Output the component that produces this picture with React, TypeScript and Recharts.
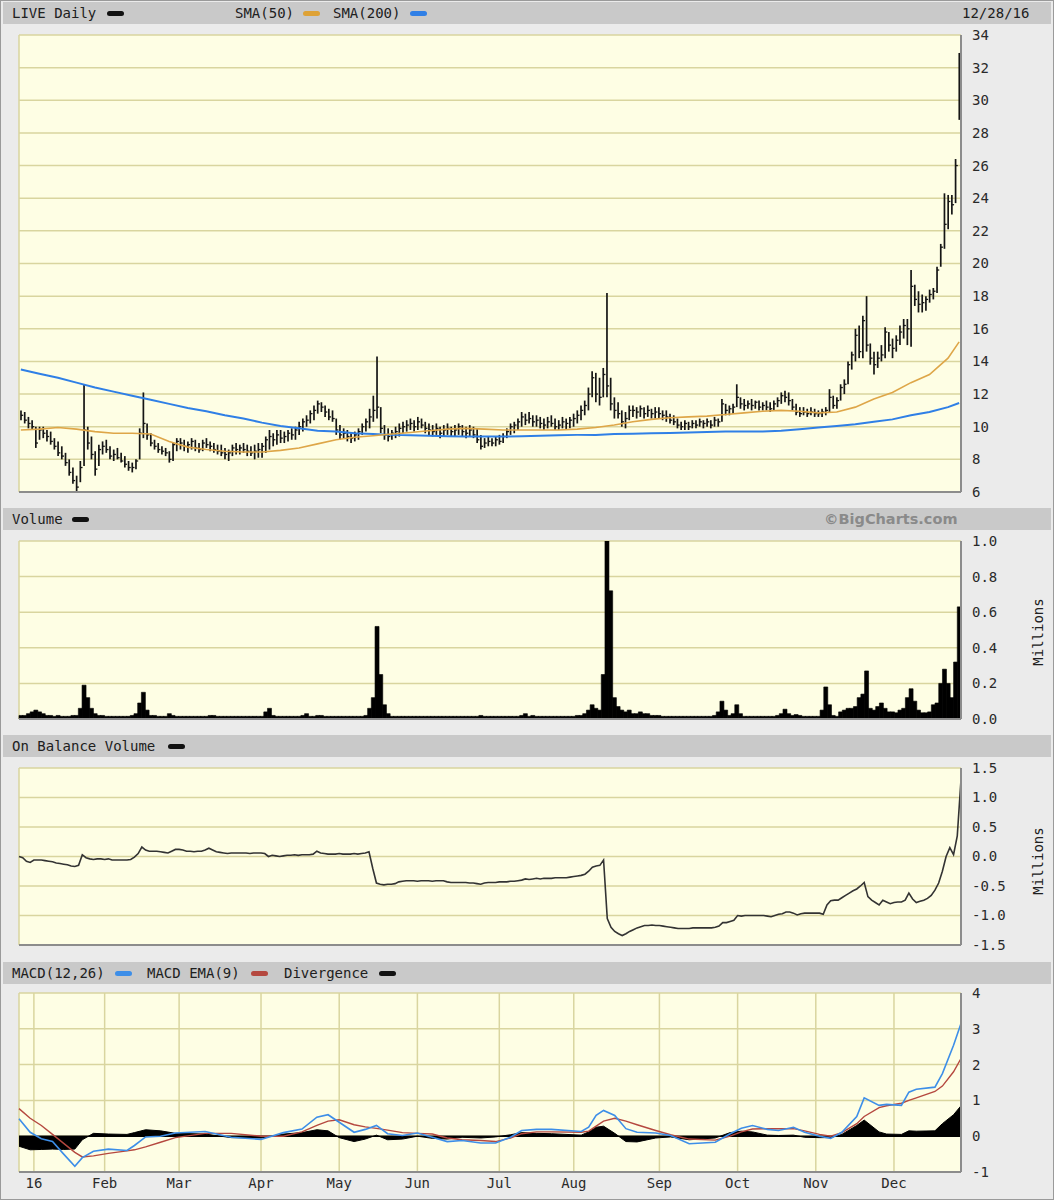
import React from "react";
import {
  Area,
  Bar,
  CartesianGrid,
  ComposedChart,
  Line,
  ReferenceLine,
  XAxis,
  YAxis,
} from "recharts";

// trading days 12/28/15 .. 12/28/16, index 0..253
const MONTH_IDX = [4, 23, 43, 65, 86, 107, 129, 149, 172, 193, 214, 235];
const MONTH_LABELS = ["16", "Feb", "Mar", "Apr", "May", "Jun", "Jul", "Aug", "Sep", "Oct", "Nov", "Dec"];

const HIGH = [
  11.0, 10.9, 10.6, 10.4, 10.0, 10.0, 10.0, 9.8, 9.7, 9.3,
  9.1, 8.8, 8.4, 8.0, 7.5, 7.0, 7.9, 12.6, 10.0, 9.4,
  8.5, 8.9, 9.1, 9.2, 8.8, 8.6, 8.7, 8.4, 8.2, 7.9,
  7.8, 8.0, 9.9, 12.1, 10.2, 9.6, 9.2, 9.0, 8.8, 8.7,
  8.5, 9.0, 9.3, 9.3, 9.2, 9.1, 9.3, 9.2, 9.0, 9.2,
  9.3, 9.1, 9.0, 8.9, 8.9, 8.7, 8.6, 8.9, 9.0, 8.9,
  9.0, 8.9, 8.8, 8.9, 9.0, 9.0, 9.4, 9.8, 9.6, 9.8,
  9.8, 9.7, 9.8, 9.9, 10.0, 10.3, 10.5, 10.7, 11.0, 11.3,
  11.6, 11.5, 11.3, 11.1, 11.0, 10.5, 10.1, 9.9, 9.8, 9.6,
  9.7, 9.9, 10.2, 10.5, 11.1, 11.9, 14.3, 11.2, 10.1, 9.9,
  9.8, 10.0, 10.2, 10.3, 10.4, 10.5, 10.4, 10.6, 10.5, 10.3,
  10.2, 10.1, 10.2, 10.0, 10.1, 10.2, 10.0, 10.1, 10.2, 10.1,
  10.0, 10.1, 10.0, 9.9, 9.5, 9.3, 9.4, 9.3, 9.4, 9.5,
  9.6, 9.9, 10.2, 10.3, 10.5, 10.9, 10.8, 10.9, 10.7, 10.7,
  10.6, 10.5, 10.6, 10.7, 10.5, 10.4, 10.6, 10.5, 10.6, 10.8,
  11.0, 11.3, 11.6, 12.4, 13.4, 13.3, 13.0, 13.6, 18.2, 13.0,
  11.8, 11.5, 11.0, 10.9, 11.3, 11.3, 11.2, 11.3, 11.2, 11.3,
  11.1, 11.2, 11.2, 11.0, 11.0, 10.8, 10.7, 10.5, 10.3, 10.4,
  10.3, 10.4, 10.4, 10.5, 10.4, 10.5, 10.4, 10.6, 10.5, 11.7,
  11.4, 11.3, 11.4, 12.6, 11.8, 11.7, 11.6, 11.7, 11.6, 11.6,
  11.5, 11.6, 11.5, 11.6, 11.8, 12.1, 12.2, 12.1, 11.7, 11.4,
  11.2, 11.2, 11.1, 11.2, 11.1, 11.0, 11.1, 11.2, 12.3, 11.9,
  11.8, 12.6, 12.9, 14.0, 14.6, 16.0, 16.2, 16.8, 18.0, 15.1,
  14.6, 14.6, 15.0, 16.1, 15.8, 15.4, 15.6, 16.2, 16.6, 16.6,
  19.6, 18.7, 18.3, 18.1, 18.0, 18.4, 18.5, 19.8, 21.2, 24.3,
  24.2, 24.2, 26.4, 32.9,
];

const LOW = [
  10.4, 10.2, 9.9, 9.8, 8.7, 9.2, 9.3, 9.1, 8.9, 8.6,
  8.2, 8.0, 7.6, 7.0, 6.5, 5.9, 6.6, 7.6, 8.6, 8.0,
  7.0, 7.6, 8.3, 8.4, 8.0, 7.9, 8.0, 7.8, 7.5, 7.3,
  7.2, 7.4, 8.0, 9.3, 9.2, 8.8, 8.6, 8.4, 8.3, 8.2,
  7.8, 7.9, 8.5, 8.6, 8.5, 8.4, 8.6, 8.5, 8.4, 8.5,
  8.7, 8.5, 8.4, 8.3, 8.2, 8.0, 7.9, 8.2, 8.3, 8.3,
  8.4, 8.2, 8.2, 8.0, 8.1, 8.1, 8.4, 8.6, 8.8, 8.9,
  9.0, 9.0, 9.1, 9.2, 9.2, 9.5, 9.7, 10.0, 10.2, 10.4,
  10.8, 10.9, 10.6, 10.4, 10.3, 9.5, 9.2, 9.3, 9.1, 9.0,
  9.1, 9.2, 9.5, 9.7, 9.9, 10.3, 10.5, 9.6, 9.2, 9.1,
  9.2, 9.3, 9.4, 9.6, 9.7, 9.8, 9.7, 9.8, 9.9, 9.6,
  9.5, 9.4, 9.5, 9.3, 9.4, 9.5, 9.4, 9.4, 9.5, 9.4,
  9.3, 9.4, 9.3, 9.0, 8.6, 8.7, 8.8, 8.8, 8.8, 8.9,
  9.0, 9.3, 9.5, 9.6, 9.8, 10.0, 10.1, 10.2, 10.0, 10.0,
  9.9, 9.8, 9.9, 10.0, 9.8, 9.8, 9.9, 9.8, 9.9, 10.0,
  10.2, 10.4, 10.7, 11.0, 11.8, 11.5, 11.3, 11.8, 11.8, 11.0,
  10.5, 10.5, 10.0, 9.9, 10.4, 10.6, 10.5, 10.6, 10.5, 10.6,
  10.5, 10.5, 10.5, 10.4, 10.3, 10.2, 10.1, 9.9, 9.8, 9.8,
  9.8, 9.9, 9.9, 10.0, 9.9, 10.0, 9.9, 10.0, 10.0, 10.3,
  10.7, 10.7, 10.8, 11.2, 11.1, 11.0, 11.1, 11.0, 11.1, 11.0,
  11.0, 11.0, 10.9, 11.0, 11.2, 11.4, 11.5, 11.3, 11.0, 10.7,
  10.6, 10.7, 10.6, 10.7, 10.6, 10.6, 10.6, 10.7, 10.9, 11.1,
  11.1, 11.6, 12.0, 12.6, 13.5, 14.0, 14.2, 14.2, 14.6, 13.8,
  13.2, 13.6, 14.0, 14.2, 14.6, 14.2, 14.6, 15.0, 15.4, 15.0,
  14.9, 17.4, 17.0, 17.0, 17.1, 17.6, 17.8, 18.2, 19.8, 20.9,
  22.1, 23.0, 23.7, 28.8,
];

const CLOSE = [
  10.7, 10.4, 10.2, 10.0, 9.0, 9.8, 9.6, 9.4, 9.1, 8.8,
  8.4, 8.2, 7.8, 7.2, 6.7, 6.3, 7.5, 9.8, 9.0, 8.3,
  7.4, 8.6, 8.8, 8.6, 8.2, 8.3, 8.1, 7.9, 7.7, 7.5,
  7.5, 7.9, 9.6, 10.2, 9.5, 9.0, 8.8, 8.6, 8.5, 8.4,
  8.0, 8.9, 9.1, 9.0, 8.8, 8.9, 9.1, 8.7, 8.6, 9.0,
  8.9, 8.8, 8.6, 8.5, 8.4, 8.3, 8.4, 8.7, 8.6, 8.7,
  8.6, 8.5, 8.4, 8.5, 8.6, 8.8, 9.2, 9.4, 9.2, 9.5,
  9.3, 9.4, 9.6, 9.5, 9.8, 10.0, 10.3, 10.4, 10.8, 11.0,
  11.4, 11.2, 10.9, 10.6, 10.5, 9.8, 9.5, 9.6, 9.4, 9.3,
  9.5, 9.7, 10.0, 10.3, 10.6, 11.0, 11.2, 9.9, 9.5, 9.4,
  9.6, 9.7, 9.9, 10.0, 10.1, 10.2, 10.0, 10.3, 10.1, 9.9,
  9.8, 9.7, 9.9, 9.6, 9.8, 9.9, 9.7, 9.8, 10.0, 9.7,
  9.6, 9.8, 9.5, 9.2, 8.8, 9.0, 9.1, 9.0, 9.2, 9.1,
  9.4, 9.7, 10.0, 10.1, 10.3, 10.6, 10.4, 10.5, 10.3, 10.4,
  10.2, 10.1, 10.3, 10.2, 10.0, 10.1, 10.3, 10.2, 10.4, 10.5,
  10.7, 11.0, 11.3, 12.0, 13.0, 12.0, 11.8, 13.2, 12.5, 11.4,
  11.0, 10.8, 10.3, 10.5, 11.0, 11.0, 10.9, 11.1, 10.8, 11.0,
  10.8, 10.9, 10.8, 10.7, 10.6, 10.4, 10.3, 10.1, 10.0, 10.2,
  10.0, 10.2, 10.1, 10.3, 10.2, 10.3, 10.1, 10.4, 10.3, 11.4,
  11.0, 11.1, 11.2, 11.8, 11.4, 11.3, 11.4, 11.3, 11.5, 11.2,
  11.3, 11.2, 11.1, 11.4, 11.6, 11.9, 11.8, 11.6, 11.2, 10.9,
  10.8, 10.9, 10.8, 10.9, 10.8, 10.8, 10.9, 11.0, 11.8, 11.3,
  11.6, 12.4, 12.6, 13.8, 14.4, 15.6, 14.6, 16.5, 15.0, 14.2,
  13.8, 14.2, 14.4, 15.8, 15.0, 14.8, 15.3, 15.8, 16.2, 16.0,
  18.6, 17.8, 17.5, 17.6, 17.8, 18.1, 18.3, 19.6, 21.0, 22.4,
  23.8, 23.6, 26.0, 30.0,
];

// millions of shares
const VOLUME = [
  0.02, 0.02, 0.03, 0.04, 0.05, 0.04, 0.03, 0.02, 0.02, 0.015,
  0.02, 0.015, 0.015, 0.015, 0.02, 0.02, 0.06, 0.19, 0.12, 0.06,
  0.03, 0.02, 0.02, 0.015, 0.015, 0.015, 0.015, 0.015, 0.015, 0.015,
  0.02, 0.03, 0.09, 0.15, 0.05, 0.02, 0.02, 0.015, 0.015, 0.015,
  0.03, 0.02, 0.015, 0.015, 0.015, 0.015, 0.015, 0.015, 0.015, 0.015,
  0.015, 0.02, 0.02, 0.015, 0.015, 0.015, 0.015, 0.015, 0.015, 0.015,
  0.015, 0.015, 0.015, 0.015, 0.015, 0.015, 0.04, 0.06, 0.02, 0.015,
  0.015, 0.015, 0.015, 0.015, 0.015, 0.015, 0.02, 0.03, 0.015, 0.015,
  0.02, 0.02, 0.015, 0.015, 0.015, 0.015, 0.015, 0.015, 0.015, 0.015,
  0.015, 0.015, 0.015, 0.02, 0.06, 0.12, 0.52, 0.25, 0.08, 0.03,
  0.015, 0.015, 0.015, 0.015, 0.015, 0.015, 0.015, 0.015, 0.015, 0.015,
  0.015, 0.015, 0.015, 0.015, 0.015, 0.015, 0.015, 0.015, 0.015, 0.015,
  0.015, 0.015, 0.015, 0.015, 0.02, 0.015, 0.015, 0.015, 0.015, 0.015,
  0.015, 0.015, 0.015, 0.015, 0.015, 0.02, 0.03, 0.015, 0.02, 0.015,
  0.015, 0.015, 0.015, 0.015, 0.015, 0.015, 0.015, 0.015, 0.015, 0.015,
  0.02, 0.02, 0.03, 0.05, 0.08, 0.06, 0.05, 0.25, 1.0, 0.72,
  0.12, 0.07, 0.05, 0.04, 0.05, 0.03, 0.03, 0.04, 0.03, 0.03,
  0.02, 0.02, 0.02, 0.015, 0.015, 0.015, 0.015, 0.015, 0.015, 0.015,
  0.015, 0.015, 0.015, 0.015, 0.015, 0.015, 0.015, 0.02, 0.04, 0.10,
  0.05, 0.02, 0.03, 0.08, 0.03, 0.015, 0.015, 0.015, 0.015, 0.015,
  0.015, 0.015, 0.015, 0.015, 0.02, 0.03, 0.055, 0.03, 0.02, 0.025,
  0.02, 0.015, 0.015, 0.015, 0.015, 0.015, 0.05, 0.18, 0.08, 0.02,
  0.015, 0.04, 0.05, 0.06, 0.06, 0.07, 0.12, 0.14, 0.27, 0.06,
  0.05, 0.07, 0.09, 0.06, 0.04, 0.04, 0.035, 0.05, 0.06, 0.12,
  0.17, 0.10, 0.05, 0.035, 0.035, 0.04, 0.08, 0.09, 0.20, 0.28,
  0.20, 0.12, 0.32, 0.63,
];

// on balance volume, millions
const OBV = [
  0.0, -0.02, -0.08, -0.10, -0.06, -0.06, -0.06, -0.07, -0.08, -0.09,
  -0.11, -0.12, -0.13, -0.14, -0.16, -0.17, -0.15, 0.03, -0.02, -0.04,
  -0.05, -0.04, -0.04, -0.05, -0.04, -0.06, -0.06, -0.06, -0.06, -0.06,
  -0.05, -0.01, 0.05, 0.16, 0.11, 0.09, 0.09, 0.09, 0.08, 0.07,
  0.06, 0.09, 0.12, 0.12, 0.11, 0.09, 0.09, 0.08, 0.09, 0.09,
  0.11, 0.14, 0.11, 0.08, 0.07, 0.06, 0.05, 0.06, 0.06, 0.06,
  0.06, 0.06, 0.05, 0.06, 0.06, 0.06, 0.05, 0.0, 0.02, 0.01,
  0.0, 0.01, 0.02, 0.02, 0.03, 0.02, 0.03, 0.03, 0.03, 0.04,
  0.09, 0.06, 0.05, 0.04, 0.04, 0.04, 0.05, 0.04, 0.04, 0.04,
  0.05, 0.04, 0.05, 0.06, 0.08, -0.2, -0.45, -0.47, -0.48, -0.47,
  -0.47, -0.46, -0.43, -0.42, -0.41, -0.41, -0.41, -0.42, -0.41, -0.41,
  -0.41, -0.42, -0.41, -0.41, -0.41, -0.43, -0.44, -0.44, -0.44, -0.44,
  -0.44, -0.45, -0.45, -0.46, -0.47, -0.45, -0.44, -0.44, -0.44, -0.43,
  -0.43, -0.43, -0.42, -0.42, -0.41, -0.40, -0.38, -0.39, -0.38, -0.37,
  -0.38, -0.37, -0.37, -0.37, -0.36, -0.36, -0.36, -0.36, -0.35, -0.34,
  -0.33, -0.32, -0.30, -0.25, -0.18, -0.16, -0.15, -0.06, -1.05, -1.2,
  -1.27, -1.31, -1.34, -1.31, -1.27, -1.24, -1.21, -1.19, -1.17, -1.17,
  -1.16, -1.17, -1.17, -1.18, -1.19, -1.2, -1.21, -1.22, -1.22, -1.22,
  -1.22, -1.21, -1.21, -1.21, -1.21, -1.21, -1.21, -1.2, -1.18, -1.12,
  -1.12, -1.1, -1.08, -1.0, -1.01, -1.0, -1.0, -1.0, -1.0, -1.0,
  -1.0, -1.01, -1.02, -1.0, -0.98, -0.97, -0.94, -0.94, -0.96, -0.99,
  -0.97, -0.96, -0.96, -0.96, -0.96, -0.96, -0.98, -0.82, -0.75, -0.74,
  -0.74, -0.70, -0.66, -0.62, -0.58, -0.55, -0.50, -0.44, -0.68, -0.74,
  -0.78, -0.82, -0.74, -0.77, -0.80, -0.78, -0.77, -0.77, -0.74, -0.62,
  -0.72, -0.78, -0.76, -0.74, -0.71, -0.66, -0.57, -0.45, -0.25, 0.0,
  0.15, 0.03, 0.35, 1.3,
];

// moving averages, read at these day indices
const SMA_IDX = [
  0, 5, 10, 15, 20, 25, 30, 35, 40, 45, 50, 55, 60, 65, 70, 75, 80, 85, 90, 95,
  100, 105, 110, 115, 120, 125, 130, 135, 140, 145, 150, 155, 160, 165, 170, 175,
  180, 185, 190, 195, 200, 205, 210, 215, 220, 225, 230, 235, 240, 245, 250, 253,
];
const SMA50 = [
  9.8, 9.85, 9.95, 9.85, 9.7, 9.6, 9.6, 9.55, 9.1, 8.75, 8.6, 8.5, 8.45, 8.45, 8.55, 8.7, 8.95, 9.2, 9.35, 9.45,
  9.55, 9.65, 9.75, 9.85, 9.9, 9.85, 9.8, 9.8, 9.8, 9.8, 9.85, 9.95, 10.1, 10.3, 10.45, 10.55,
  10.6, 10.65, 10.75, 10.85, 10.95, 11.0, 10.95, 10.85, 10.9, 11.2, 11.7, 12.1, 12.7, 13.2, 14.2, 15.2,
];
const SMA200 = [
  13.5, 13.25, 13.0, 12.7, 12.4, 12.15, 11.9, 11.65, 11.4, 11.15, 10.95, 10.7, 10.5, 10.25, 10.05, 9.9, 9.75, 9.7, 9.6, 9.55,
  9.5, 9.48, 9.45, 9.42, 9.4, 9.4, 9.4, 9.42, 9.45, 9.48, 9.5, 9.5, 9.55, 9.57, 9.6, 9.62,
  9.65, 9.68, 9.7, 9.7, 9.7, 9.75, 9.85, 9.95, 10.05, 10.15, 10.3, 10.45, 10.7, 10.9, 11.2, 11.45,
];

// MACD panel, read at these day indices
const MACD_IDX = [
  0, 3, 6, 9, 12, 15, 17, 20, 24, 29, 31, 34, 38, 42, 50, 57, 65, 71, 76, 80, 83, 86, 90,
  93, 96, 99, 103, 107, 111, 115, 119, 124, 128, 132, 135, 139, 143, 151, 153, 155, 157, 160,
  163, 166, 171, 175, 180, 187, 191, 194, 197, 201, 204, 208, 211, 215, 218, 221, 225, 227,
  231, 233, 237, 239, 241, 246, 248, 251, 253,
];
const MACD = [
  0.49, 0.11, -0.07, -0.15, -0.5, -0.84, -0.6, -0.42, -0.36, -0.40, -0.26, -0.02, 0.0, 0.09, 0.13, -0.03, -0.09, 0.1, 0.2, 0.53, 0.60, 0.39, 0.11,
  0.19, 0.30, 0.07, 0.02, 0.09, -0.03, -0.15, -0.12, -0.19, -0.19, -0.03, 0.16, 0.19, 0.19, 0.13, 0.25, 0.58, 0.72, 0.58,
  0.21, 0.11, 0.09, 0.02, -0.21, -0.17, 0.07, 0.22, 0.30, 0.19, 0.16, 0.25, 0.11, 0.0, -0.06, 0.11, 0.55, 1.07,
  0.86, 0.89, 0.86, 1.23, 1.31, 1.37, 1.75, 2.54, 3.15,
];
const SIGNAL = [
  0.77, 0.5, 0.3, 0.05, -0.2, -0.45, -0.58, -0.55, -0.48, -0.41, -0.38, -0.3, -0.17, -0.04, 0.08, 0.08, 0.0, 0.0, 0.12, 0.3, 0.42, 0.46, 0.32,
  0.26, 0.22, 0.17, 0.1, 0.08, 0.06, -0.05, -0.1, -0.12, -0.15, -0.05, 0.07, 0.12, 0.12, 0.11, 0.14, 0.28, 0.42, 0.50,
  0.42, 0.32, 0.16, 0.04, -0.08, -0.11, 0.0, 0.12, 0.2, 0.21, 0.21, 0.21, 0.15, 0.05, 0.0, 0.1, 0.35, 0.55,
  0.8, 0.85, 0.92, 1.0, 1.07, 1.25, 1.4, 1.8, 2.17,
];
const DIVERGENCE = [
  -0.28, -0.38, -0.37, -0.36, -0.37, -0.36, -0.1, 0.08, 0.06, 0.05, 0.1, 0.18, 0.15, 0.08, 0.06, -0.04, -0.05, 0.06, 0.1, 0.18, 0.15, -0.04, -0.15,
  -0.08, 0.03, -0.1, -0.08, 0.0, -0.06, -0.08, -0.03, -0.05, -0.02, 0.04, 0.1, 0.08, 0.07, 0.03, 0.12, 0.25, 0.28, 0.08,
  -0.15, -0.16, -0.05, -0.02, -0.1, -0.05, 0.1, 0.14, 0.12, 0.03, 0.02, 0.03, -0.03, -0.04, -0.04, 0.05, 0.3, 0.45,
  0.12, 0.06, 0.05, 0.15, 0.14, 0.15, 0.35, 0.6, 0.85,
];

const PRICE_TICKS = [6, 8, 10, 12, 14, 16, 18, 20, 22, 24, 26, 28, 30, 32, 34];
const VOLUME_TICKS = [0, 0.2, 0.4, 0.6, 0.8, 1.0];
const OBV_TICKS = [-1.5, -1.0, -0.5, 0, 0.5, 1.0, 1.5];
const MACD_TICKS = [-1, 0, 1, 2, 3, 4];

type Row = {
  i: number; h: number; l: number; c: number; v: number; obv: number;
  sma50: number | null; sma200: number | null;
  macd: number | null; signal: number | null; div: number | null;
};

const ROWS: Row[] = HIGH.map((h, i) => ({
  i, h, l: LOW[i], c: CLOSE[i], v: VOLUME[i], obv: OBV[i],
  sma50: null, sma200: null, macd: null, signal: null, div: null,
}));
SMA_IDX.forEach((idx, k) => {
  ROWS[idx].sma50 = SMA50[k];
  ROWS[idx].sma200 = SMA200[k];
});
MACD_IDX.forEach((idx, k) => {
  ROWS[idx].macd = MACD[k];
  ROWS[idx].signal = SIGNAL[k];
  ROWS[idx].div = DIVERGENCE[k];
});

const MONO = '"DejaVu Sans Mono", "Liberation Mono", monospace';
const BG = "#ebebeb";
const PLOT_BG = "#fefee4";
const GRID = "#d9d59f";
const BORDER = "#8c8c8c";
const INK = "#202020";

const W = 1054;
const MARGIN = { top: 10, right: 0, bottom: 10, left: 19 };
const YW = 93;

const monthLabel = (v: number) => MONTH_LABELS[MONTH_IDX.indexOf(v)] ?? "";

// high-low bar with close tick on the right
function HlcBar(props: any) {
  const { x, y, width, height, payload } = props;
  if (x == null || y == null || !payload) return null;
  const top = Math.min(y, y + height);
  const bot = Math.max(y, y + height);
  const cx = x + width / 2;
  const span = payload.h - payload.l;
  const yc = span > 0 ? top + ((payload.h - payload.c) / span) * (bot - top) : top;
  return (
    <g>
      <line x1={cx} x2={cx} y1={top} y2={bot} stroke="#151515" strokeWidth={1.7} />
      <line x1={cx} x2={cx + 2.2} y1={yc} y2={yc} stroke="#151515" strokeWidth={1.3} />
    </g>
  );
}

const tickStyle = { fill: "#2a2a2a", fontSize: 14, fontFamily: MONO };

function Txt({ x, cy, children, style }: { x: number; cy: number; children: React.ReactNode; style?: React.CSSProperties }) {
  return (
    <div
      style={{
        position: "absolute", left: x, top: cy - 8, height: 16, lineHeight: "16px",
        fontFamily: MONO, fontSize: 14, color: INK, whiteSpace: "nowrap", ...style,
      }}
    >
      {children}
    </div>
  );
}

function Swatch({ x, cy, color }: { x: number; cy: number; color: string }) {
  return (
    <div
      style={{
        position: "absolute", left: x, top: cy - 2.5, width: 17, height: 5,
        borderRadius: 2.5, background: color,
      }}
    />
  );
}

function HeaderBar({ top }: { top: number }) {
  return <div style={{ position: "absolute", left: 3, top, width: W - 6, height: 22, background: "#c9c9c9" }} />;
}

function Millions({ cy }: { cy: number }) {
  return (
    <div
      style={{
        position: "absolute", left: 1038 - 40, top: cy - 8, width: 80, height: 16,
        lineHeight: "16px", textAlign: "center", fontFamily: MONO, fontSize: 14, color: INK,
        transform: "rotate(-90deg)",
      }}
    >
      Millions
    </div>
  );
}

function Panel({
  top, plotH, domain, ticks, fmt, showX, children,
}: {
  top: number; plotH: number; domain: [number, number]; ticks: number[];
  fmt: (v: number) => string; showX?: boolean; children: React.ReactNode;
}) {
  const xh = showX ? 20 : 0;
  const margin = { ...MARGIN, bottom: showX ? 0 : MARGIN.bottom };
  const h = MARGIN.top + plotH + (showX ? xh : MARGIN.bottom);
  return (
    <div style={{ position: "absolute", left: 0, top: top - MARGIN.top }}>
      <ComposedChart width={W} height={h} data={ROWS} margin={margin} barCategoryGap={0} barGap={0}>
        <CartesianGrid stroke={GRID} strokeWidth={1.5} fill={PLOT_BG} fillOpacity={1} />
        <XAxis
          dataKey="i"
          type="category"
          ticks={MONTH_IDX}
          interval={0}
          height={xh}
          tick={showX ? tickStyle : false}
          tickFormatter={monthLabel}
          tickLine={false}
          axisLine={false}
          tickSize={0}
          tickMargin={6}
        />
        <YAxis
          orientation="right"
          width={YW}
          domain={domain}
          ticks={ticks}
          interval={0}
          allowDataOverflow
          tickFormatter={fmt}
          tick={tickStyle}
          tickLine={false}
          tickSize={0}
          tickMargin={11}
          axisLine={{ stroke: BORDER, strokeWidth: 2 }}
        />
        {children}
        <ReferenceLine y={domain[0]} stroke={BORDER} strokeWidth={2} />
      </ComposedChart>
    </div>
  );
}

export default function App() {
  return (
    <div style={{ position: "absolute", left: 0, top: 0, width: W, height: 1200, background: BG, overflow: "hidden" }}>
      {/* header bars */}
      <HeaderBar top={2} />
      <Txt x={12} cy={13}>LIVE Daily</Txt>
      <Swatch x={107} cy={13} color="#111" />
      <Txt x={235} cy={13}>SMA(50)</Txt>
      <Swatch x={303} cy={13} color="#dea236" />
      <Txt x={333} cy={13}>SMA(200)</Txt>
      <Swatch x={410} cy={13} color="#2f7fe6" />
      <Txt x={962} cy={13}>12/28/16</Txt>

      <HeaderBar top={508} />
      <Txt x={12} cy={519}>Volume</Txt>
      <Swatch x={72} cy={519} color="#111" />
      <Txt x={824} cy={519} style={{ fontFamily: '"DejaVu Sans", sans-serif', fontWeight: 700, fontSize: 14.5, color: "#8a8a8a" }}>
        ©BigCharts.com
      </Txt>

      <HeaderBar top={735} />
      <Txt x={12} cy={746}>On Balance Volume</Txt>
      <Swatch x={168} cy={746} color="#111" />

      <HeaderBar top={962} />
      <Txt x={12} cy={973}>MACD(12,26)</Txt>
      <Swatch x={115} cy={973} color="#3d8ee8" />
      <Txt x={147} cy={973}>MACD EMA(9)</Txt>
      <Swatch x={251} cy={973} color="#b5483f" />
      <Txt x={284} cy={973}>Divergence</Txt>
      <Swatch x={379} cy={973} color="#111" />

      {/* price */}
      <Panel top={35} plotH={457} domain={[6, 34]} ticks={PRICE_TICKS} fmt={(v) => String(v)}>
        <Line dataKey="sma200" stroke="#2f7fe6" strokeWidth={2} dot={false} connectNulls isAnimationActive={false} />
        <Line dataKey="sma50" stroke="#dea648" strokeWidth={1.6} dot={false} connectNulls isAnimationActive={false} />
        <Bar dataKey={(d: Row) => [d.l, d.h]} shape={<HlcBar />} isAnimationActive={false} />
      </Panel>

      {/* volume */}
      <Panel top={541} plotH={178} domain={[0, 1]} ticks={VOLUME_TICKS} fmt={(v) => v.toFixed(1)}>
        <Bar dataKey="v" fill="#000" stroke="#000" strokeWidth={0.6} isAnimationActive={false} />
      </Panel>
      <Millions cy={632} />

      {/* on balance volume */}
      <Panel top={768} plotH={177} domain={[-1.5, 1.5]} ticks={OBV_TICKS} fmt={(v) => v.toFixed(1)}>
        <Line dataKey="obv" type="linear" stroke="#333" strokeWidth={1.6} dot={false} isAnimationActive={false} />
      </Panel>
      <Millions cy={861} />

      {/* MACD */}
      <Panel top={993} plotH={179} domain={[-1, 4]} ticks={MACD_TICKS} fmt={(v) => String(v)} showX>
        <Area dataKey="div" type="linear" stroke="#000" strokeWidth={1} fill="#000" fillOpacity={1} baseValue={0} connectNulls isAnimationActive={false} />
        <ReferenceLine y={0} stroke="#000" strokeWidth={1.5} />
        <Line dataKey="signal" type="linear" stroke="#b5483f" strokeWidth={1.4} dot={false} connectNulls isAnimationActive={false} />
        <Line dataKey="macd" type="linear" stroke="#3d8ee8" strokeWidth={1.6} dot={false} connectNulls isAnimationActive={false} />
      </Panel>

      <div style={{ position: "absolute", left: 0, top: 0, width: W - 2, height: 1198, border: "1px solid #9a9a9a", pointerEvents: "none" }} />
    </div>
  );
}
